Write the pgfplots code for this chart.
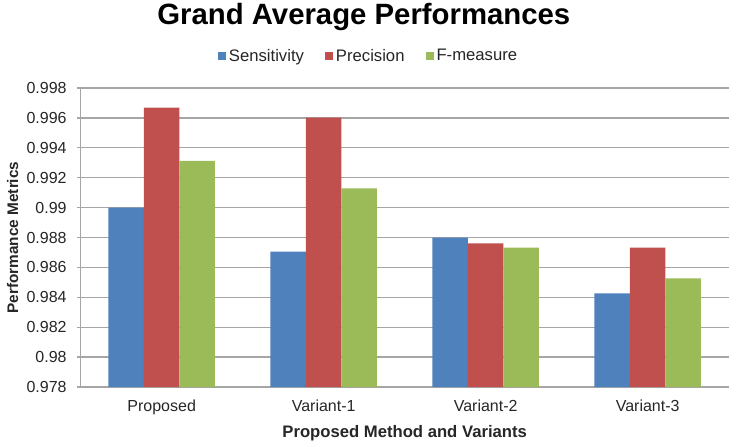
\documentclass[border=0pt]{standalone}
\usepackage{pgfplots}
\pgfplotsset{compat=1.18}
\usepackage{fontspec}
\setmainfont{Liberation Sans}
\definecolor{cblue}{HTML}{4F81BD}
\definecolor{cred}{HTML}{C0504D}
\definecolor{cgreen}{HTML}{9BBB59}
\definecolor{cgrid}{HTML}{A6A6A6}
\definecolor{ctext}{HTML}{262626}
\begin{document}
\begin{tikzpicture}
\useasboundingbox (-60.5pt,-44.25pt) rectangle (492.25pt,290.25pt);
\begin{axis}[
  at={(0,0)}, anchor=south west,
  scale only axis, width=486pt, height=224.25pt,
  ybar=0pt, bar width=26.6pt,
  xmin=-0.5, xmax=3.5,
  ymin=0.978, ymax=0.998,
  xtick={0,1,2,3},
  xticklabels={Proposed,Variant-1,Variant-2,Variant-3},
  ytick={0.978,0.980,0.982,0.984,0.986,0.988,0.990,0.992,0.994,0.996,0.998},
  yticklabels={0.978,0.98,0.982,0.984,0.986,0.988,0.99,0.992,0.994,0.996,0.998},
  ymajorgrids, grid style={cgrid, line width=1pt},
  axis x line*=bottom, axis y line*=left,
  x axis line style={cgrid, line width=1pt, -},
  y axis line style={cgrid, line width=1pt, -},
  xtick style={draw=none},
  ytick style={cgrid, line width=1pt},
  tick align=outside, major tick length=3pt,
  tick label style={font=\fontsize{12}{14}\selectfont, text=ctext},
  yticklabel style={xshift=-4pt},
  xticklabel style={yshift=-3pt},
  xlabel={Proposed Method and Variants},
  ylabel={Performance Metrics},
  label style={font=\bfseries\fontsize{12.5}{14}\selectfont, text=ctext},
  xlabel style={at={(axis description cs:0.5,0)}, anchor=center, yshift=-34.5pt},
  ylabel style={at={(axis description cs:0,0.5)}, anchor=center, rotate=0, yshift=51pt,
    font=\bfseries\fontsize{11.5}{13}\selectfont},
  title={Grand Average Performances},
  title style={font=\bfseries\fontsize{22}{24}\selectfont, at={(axis description cs:0.437,1.211)}, anchor=center},
  legend columns=3,
  legend style={draw=none, at={(0.445,1.107)}, anchor=center,
    font=\fontsize{12.5}{14}\selectfont, text=ctext,
    /tikz/every even column/.append style={column sep=14pt}},
  legend image code/.code={\fill[#1] (2pt,-3pt) rectangle (8pt,3pt);},
  legend cell align=left,
]
\addplot[fill=cblue, draw=none] coordinates {(0,0.9900) (1,0.98705) (2,0.9880) (3,0.98427)};
\addplot[fill=cred, draw=none] coordinates {(0,0.99668) (1,0.99601) (2,0.98761) (3,0.98732)};
\addplot[fill=cgreen, draw=none] coordinates {(0,0.99312) (1,0.99129) (2,0.98732) (3,0.98527)};
\legend{Sensitivity,Precision,F-measure}
\end{axis}
\end{tikzpicture}
\end{document}
